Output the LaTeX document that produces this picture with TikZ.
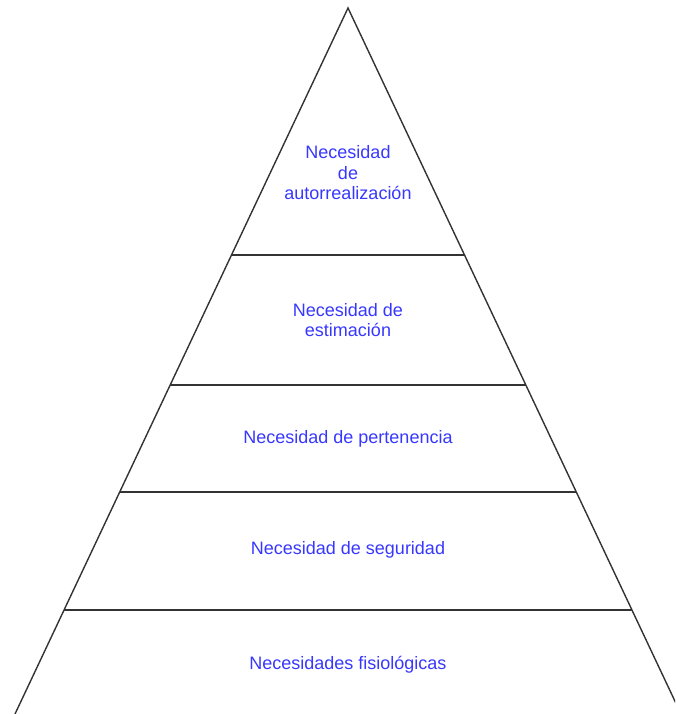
\documentclass[tikz,border=0pt]{standalone}
\usepackage{fontspec}
\setmainfont{Liberation Sans}
\usetikzlibrary{calc}
\definecolor{levelblue}{RGB}{55,55,255}

\begin{document}
\begin{tikzpicture}
            [x=1pt,y=-1pt,every node/.style={text=levelblue, align=center, inner sep = 0pt, font=\fontsize{18}{20.5}\selectfont}]

            \useasboundingbox (0,0) rectangle (675,714);
            \clip (0,0) rectangle (675,714);

            \coordinate (apex) at (348,8);
            \coordinate (bl) at (15,714);
            \coordinate (br) at (681,714);

            \draw[line width=1.4pt, black!80, line join=miter] (bl) -- (apex) -- (br);

            % level borders
            \coordinate (al) at ($(apex)!0.350!(bl)$);
            \coordinate (ar) at ($(apex)!0.350!(br)$);
            \coordinate (bl2) at ($(apex)!0.534!(bl)$);
            \coordinate (br2) at ($(apex)!0.534!(br)$);
            \coordinate (cl) at ($(apex)!0.6856!(bl)$);
            \coordinate (cr) at ($(apex)!0.6856!(br)$);
            \coordinate (dl) at ($(apex)!0.8527!(bl)$);
            \coordinate (dr) at ($(apex)!0.8527!(br)$);

            \draw[line width=1.4pt, black!80] (al) -- (ar);
            \draw[line width=1.4pt, black!80] (bl2) -- (br2);
            \draw[line width=1.4pt, black!80] (cl) -- (cr);
            \draw[line width=1.4pt, black!80] (dl) -- (dr);

            \node (auto) at (348,173) {Necesidad\\de\\autorrealización};
            \node (esti) at (348,320) {Necesidad de\\estimación};
            \node (pert) at (348,438.5) {Necesidad de pertenencia};
            \node (segu) at (348,549.5) {Necesidad de seguridad};
            \node (fisi) at (348,664.5) {Necesidades fisiológicas};
        \end{tikzpicture}
\end{document}
